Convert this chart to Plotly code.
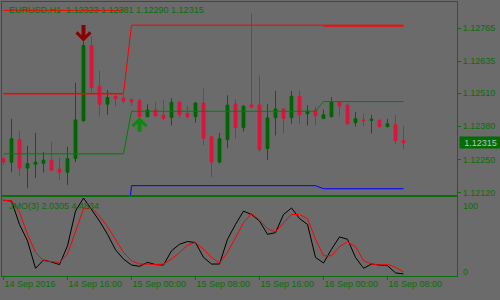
import pandas as pd
import plotly.graph_objects as go

# ---------------- data ----------------
symbol_title = "EURUSD,H1  1.12323 1.12381 1.12290 1.12315"
osc_title = "JMO(3) 2.0305 4.4834"
first_bar = "2016-09-14 08:00"

opens = [1.12253, 1.12239, 1.12327, 1.12216, 1.12231, 1.12235, 1.12247, 1.12212, 1.12200, 1.12254,
         1.12402, 1.12697, 1.12537, 1.12467, 1.12497, 1.12490, 1.12484, 1.12480, 1.12418, 1.12444,
         1.12424, 1.12415, 1.12474, 1.12430, 1.12418, 1.12471, 1.12339, 1.12240, 1.12328, 1.12467,
         1.12375, 1.12464, 1.12464, 1.12293, 1.12414, 1.12448, 1.12414, 1.12497, 1.12429, 1.12444,
         1.12411, 1.12418, 1.12475, 1.12463, 1.12394, 1.12405, 1.12403, 1.12404, 1.12379, 1.12386,
         1.12323]
highs = [1.12261, 1.12409, 1.12362, 1.12304, 1.12354, 1.12280, 1.12319, 1.12257, 1.12300, 1.12551,
         1.12713, 1.12735, 1.12599, 1.12522, 1.12506, 1.12502, 1.12490, 1.12488, 1.12467, 1.12475,
         1.12482, 1.12490, 1.12479, 1.12460, 1.12475, 1.12529, 1.12341, 1.12354, 1.12502, 1.12486,
         1.12463, 1.12823, 1.12580, 1.12467, 1.12519, 1.12451, 1.12519, 1.12522, 1.12463, 1.12459,
         1.12446, 1.12494, 1.12477, 1.12471, 1.12437, 1.12429, 1.12425, 1.12405, 1.12409, 1.12425,
         1.12381]
lows = [1.12227, 1.12200, 1.12184, 1.12137, 1.12177, 1.12199, 1.12204, 1.12169, 1.12150, 1.12239,
        1.12397, 1.12512, 1.12418, 1.12425, 1.12458, 1.12471, 1.12460, 1.12416, 1.12416, 1.12420,
        1.12405, 1.12383, 1.12413, 1.12411, 1.12394, 1.12305, 1.12180, 1.12234, 1.12294, 1.12332,
        1.12359, 1.12453, 1.12280, 1.12247, 1.12344, 1.12352, 1.12390, 1.12390, 1.12383, 1.12383,
        1.12409, 1.12414, 1.12418, 1.12386, 1.12379, 1.12379, 1.12352, 1.12375, 1.12375, 1.12309,
        1.12290]
closes = [1.12240, 1.12331, 1.12216, 1.12234, 1.12239, 1.12247, 1.12208, 1.12200, 1.12253, 1.12405,
          1.12697, 1.12533, 1.12467, 1.12493, 1.12489, 1.12479, 1.12476, 1.12418, 1.12444, 1.12421,
          1.12411, 1.12474, 1.12425, 1.12418, 1.12471, 1.12333, 1.12240, 1.12331, 1.12463, 1.12375,
          1.12459, 1.12456, 1.12289, 1.12413, 1.12448, 1.12411, 1.12498, 1.12425, 1.12440, 1.12421,
          1.12425, 1.12475, 1.12460, 1.12390, 1.12410, 1.12402, 1.12408, 1.12379, 1.12390, 1.12324,
          1.12315]

upper_line = [1.12509, 1.12509, 1.12509, 1.12509, 1.12509, 1.12509, 1.12509, 1.12509, 1.12509, 1.12509,
              1.12509, 1.12509, 1.12509, 1.12509, 1.12509, 1.12509, 1.12777, 1.12777, 1.12777, 1.12777,
              1.12777, 1.12777, 1.12777, 1.12777, 1.12777, 1.12777, 1.12777, 1.12777, 1.12777, 1.12777,
              1.12777, 1.12777, 1.12777, 1.12777, 1.12777, 1.12777, 1.12777, 1.12777, 1.12777, 1.12777,
              1.12777, 1.12777, 1.12777, 1.12777, 1.12777, 1.12777, 1.12777, 1.12777, 1.12777, 1.12777,
              1.12777]
upper_line2 = [1.12835, 1.12835, 1.12835, 1.12835, 1.12835, 1.12835, 1.12835, 1.12835, 1.12835, 1.12835,
               1.12835, 1.12835, 1.12835, 1.12835, 1.12835, 1.12835, None, None, None, None,
               None, None, None, None, None, None, None, None, None, None,
               None, None, None, None, None, None, None, None, None, None,
               1.12773, 1.12773, 1.12773, 1.12773, 1.12773, 1.12773, 1.12773, 1.12773, 1.12773, 1.12773,
               1.12773]
upper_line3 = [1.12507, 1.12507, 1.12507, 1.12507, 1.12507, 1.12507, 1.12507, 1.12507, 1.12507, 1.12507,
               1.12507, 1.12507, 1.12507, 1.12507, 1.12507, 1.12507, None, None, None, None,
               None, None, None, None, None, None, None, None, None, None,
               None, None, None, None, None, None, None, None, None, None,
               None, None, None, None, None, None, None, None, None, None,
               None]
lower_line = [1.12272, 1.12272, 1.12272, 1.12272, 1.12272, 1.12272, 1.12272, 1.12272, 1.12272, 1.12272,
              1.12272, 1.12272, 1.12272, 1.12272, 1.12272, 1.12272, 1.12439, 1.12439, 1.12439, 1.12439,
              1.12439, 1.12439, 1.12439, 1.12439, 1.12439, 1.12439, 1.12439, 1.12439, 1.12439, 1.12439,
              1.12439, 1.12439, 1.12439, 1.12439, 1.12439, 1.12439, 1.12439, 1.12439, 1.12439, 1.12439,
              1.12477, 1.12477, 1.12477, 1.12477, 1.12477, 1.12477, 1.12477, 1.12477, 1.12477, 1.12477,
              1.12477]
blue_line = [1.11845, 1.11845, 1.11845, 1.11845, 1.11845, 1.11845, 1.11845, 1.11845, 1.11845, 1.11845,
             1.11845, 1.11845, 1.11845, 1.11845, 1.11845, 1.11845, 1.12147, 1.12147, 1.12147, 1.12147,
             1.12147, 1.12147, 1.12147, 1.12147, 1.12147, 1.12147, 1.12147, 1.12147, 1.12147, 1.12147,
             1.12147, 1.12147, 1.12147, 1.12147, 1.12147, 1.12147, 1.12147, 1.12147, 1.12147, 1.12147,
             1.12135, 1.12135, 1.12135, 1.12135, 1.12135, 1.12135, 1.12135, 1.12135, 1.12135, 1.12135,
             1.12135]

sell_signal_bar = 10
buy_signal_bar = 17

jmo_main = [95.8, 95.0, 65.1, 44.1, 9.2, 19.7, 17.2, 13.9, 37.8, 82.0,
            98.7, 84.0, 69.4, 52.5, 32.8, 20.9, 13.4, 11.7, 16.8, 13.9,
            13.4, 31.5, 39.8, 43.3, 42.0, 23.1, 14.6, 14.6, 46.2, 65.1,
            82.0, 77.7, 69.4, 52.5, 54.6, 77.7, 86.1, 72.6, 65.1, 23.1,
            15.9, 33.5, 49.2, 46.2, 23.1, 9.2, 14.6, 13.4, 12.6, 3.3,
            2.0305]
jmo_signal = [95.8, 95.0, 80.7, 52.5, 29.4, 18.9, 17.7, 16.8, 27.2, 56.7,
              84.9, 86.1, 75.7, 62.2, 45.4, 29.4, 18.9, 14.6, 14.6, 13.9,
              14.6, 20.9, 29.4, 38.6, 42.0, 33.5, 23.1, 15.9, 29.4, 48.3,
              67.2, 78.9, 70.6, 59.6, 55.5, 67.2, 77.7, 77.7, 72.3, 46.2,
              25.2, 25.2, 36.9, 42.9, 36.9, 18.9, 14.6, 13.4, 14.2, 10.5,
              4.4834]

price_ticks = [1.12765, 1.12635, 1.12510, 1.12380, 1.12250, 1.12120]
time_ticks = ["2016-09-14 08:00", "2016-09-14 16:00", "2016-09-15 00:00", "2016-09-15 08:00",
              "2016-09-15 16:00", "2016-09-16 00:00", "2016-09-16 08:00"]
time_labels = ["14 Sep 2016", "14 Sep 16:00", "15 Sep 00:00", "15 Sep 08:00",
               "15 Sep 16:00", "16 Sep 00:00", "16 Sep 08:00"]

# ---------------- geometry / style ----------------
W, H = 500, 300
BG = "#6b6b6b"
FG = "#0a6e0a"
BULL = "#006400"
BEAR = "#dc143c"
FONT = "Liberation Sans"
FS = 9

PLOT_L, PLOT_R = 2, 457          # px
MAIN_T, MAIN_B = 2, 197
SUB_T, SUB_B = 199, 278.3
BAR_PX = 8.0
FIRST_BAR_PX = 3.5

times = pd.date_range(first_bar, periods=len(closes), freq="h")
t0 = times[0]
x_start = t0 - pd.Timedelta(hours=(FIRST_BAR_PX - PLOT_L) / BAR_PX)
x_end = t0 + pd.Timedelta(hours=(PLOT_R - FIRST_BAR_PX) / BAR_PX)

# price <-> pixel mapping from two axis labels (pixel-centre coordinates)
p_hi, y_hi = 1.12765, 28.5
p_lo, y_lo = 1.12120, 194.5
per_px = (p_hi - p_lo) / (y_lo - y_hi)
y_top = p_hi + (y_hi - MAIN_T) * per_px
y_bot = p_lo - (MAIN_B - y_lo) * per_px

fig = go.Figure()

fig.add_trace(go.Candlestick(
    x=times, open=opens, high=highs, low=lows, close=closes,
    xaxis="x", yaxis="y", whiskerwidth=0,
    increasing=dict(line=dict(color=BULL, width=1), fillcolor=BULL),
    decreasing=dict(line=dict(color=BEAR, width=1), fillcolor=BEAR),
    showlegend=False, hoverinfo="skip"))

for series, color in [(upper_line, "#ff0000"), (upper_line2, "#ff0000"), (upper_line3, "#ff0000"),
                      (lower_line, "#008000"), (blue_line, "#0000ff")]:
    fig.add_trace(go.Scatter(x=times, y=series, mode="lines", xaxis="x", yaxis="y",
                             line=dict(color=color, width=1), connectgaps=False,
                             showlegend=False, hoverinfo="skip"))

fig.add_trace(go.Scatter(x=times, y=jmo_main, mode="lines", xaxis="x2", yaxis="y2",
                         line=dict(color="#000000", width=1), showlegend=False, hoverinfo="skip"))
fig.add_trace(go.Scatter(x=times, y=jmo_signal, mode="lines", xaxis="x2", yaxis="y2",
                         line=dict(color="#ff0000", width=1), showlegend=False, hoverinfo="skip"))

axis_common = dict(showgrid=False, zeroline=False, showline=True, mirror=True,
                   linecolor=FG, linewidth=1)

fig.update_layout(
    width=W, height=H, margin=dict(l=0, r=0, t=0, b=0),
    paper_bgcolor=BG, plot_bgcolor=BG, boxgap=0.5,
    font=dict(family=FONT, size=FS, color=FG),
    xaxis=dict(domain=[PLOT_L / W, PLOT_R / W], range=[x_start, x_end], type="date",
               anchor="y", showticklabels=False, ticks="",
               rangeslider=dict(visible=False), **axis_common),
    yaxis=dict(domain=[1 - MAIN_B / H, 1 - MAIN_T / H], range=[y_bot, y_top], anchor="x",
               side="right", tickvals=price_ticks, ticktext=[f"{v:.5f}" for v in price_ticks],
               ticks="outside", ticklen=3, tickcolor=FG,
               tickfont=dict(family=FONT, size=FS, color=FG), **axis_common),
    xaxis2=dict(domain=[PLOT_L / W, PLOT_R / W], range=[x_start, x_end], type="date",
                anchor="y2", tickvals=time_ticks, ticktext=time_labels,
                ticks="outside", ticklen=3, tickcolor=FG, ticklabelposition="outside right",
                tickfont=dict(family=FONT, size=FS, color=FG), **axis_common),
    yaxis2=dict(domain=[1 - SUB_B / H, 1 - SUB_T / H], range=[0, 100], anchor="x2",
                side="right", showticklabels=False, ticks="", **axis_common),
)

annotations = [
    dict(xref="paper", yref="paper", x=7 / W, y=1 - 10.5 / H, xanchor="left", yanchor="middle",
         text=symbol_title, showarrow=False, font=dict(family=FONT, size=FS, color=FG)),
    dict(xref="paper", yref="paper", x=7 / W, y=1 - 208.5 / H, xanchor="left", yanchor="middle",
         text=osc_title, showarrow=False, font=dict(family=FONT, size=FS, color=FG)),
    dict(xref="paper", yref="y", x=459 / W, y=closes[-1], xanchor="left", yanchor="middle",
         text=f"{closes[-1]:.5f}", showarrow=False, bgcolor="#006e00", width=41, height=11,
         borderpad=0, align="center", font=dict(family=FONT, size=FS, color="#c0c0c0")),
    dict(xref="paper", yref="y2", x=461 / W, y=100, xanchor="left", yanchor="top", yshift=-2,
         text="100", showarrow=False, font=dict(family=FONT, size=FS, color=FG)),
    dict(xref="paper", yref="y2", x=461 / W, y=0, xanchor="left", yanchor="bottom", yshift=-3,
         text="0", showarrow=False, font=dict(family=FONT, size=FS, color=FG)),
    dict(xref="x", yref="y", x=times[sell_signal_bar], y=highs[sell_signal_bar], text="",
         showarrow=True, arrowhead=4, arrowwidth=4, arrowsize=0.67, arrowcolor="#8b0000",
         ax=0, ay=-18, standoff=0),
    dict(xref="x", yref="y", x=times[buy_signal_bar], y=lows[buy_signal_bar], text="",
         showarrow=True, arrowhead=4, arrowwidth=4, arrowsize=0.67, arrowcolor="#0a8a0a",
         ax=0, ay=16, standoff=0),
]
fig.update_layout(annotations=annotations)

fig.write_html("out.html", config={"displayModeBar": False})
